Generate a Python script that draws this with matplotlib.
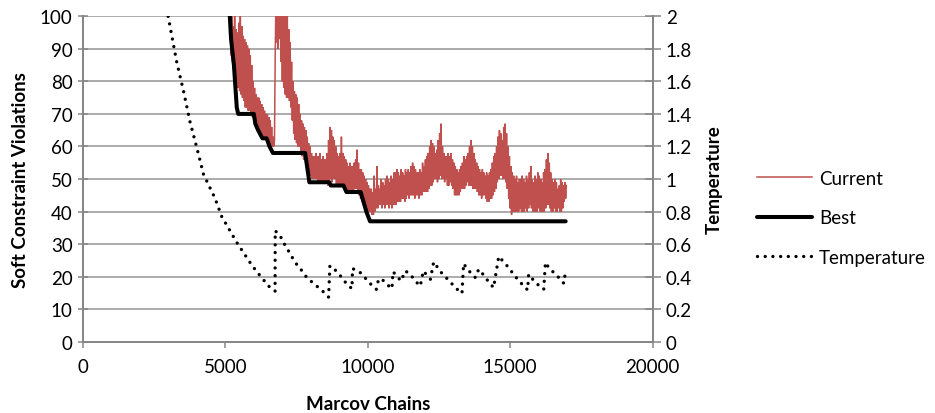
import matplotlib
matplotlib.use("Agg")
import matplotlib.pyplot as plt
from matplotlib.lines import Line2D
import numpy as np

plt.rcParams['font.family'] = ['Lato', 'DejaVu Sans']

# ---------------- data ----------------
x_ticks = [0, 5000, 10000, 15000, 20000]
y_ticks = [0, 10, 20, 30, 40, 50, 60, 70, 80, 90, 100]
t_ticks = [0, 0.2, 0.4, 0.6, 0.8, 1.0, 1.2, 1.4, 1.6, 1.8, 2.0]

best_chain = [5150, 5200, 5300, 5400, 5450, 6000, 6050, 6150, 6300, 6450, 6550,
              6670, 7800, 7900, 7950, 8650, 8700, 9150, 9250, 9750, 9850, 9950,
              10080, 16950]
best_value = [101, 93, 85, 72, 70, 70, 67, 65, 62.5, 62.5, 60,
              58, 58, 52, 49, 49, 48, 48, 46, 46, 43, 40,
              37, 37]

temp_chain = [2990, 3290, 3530, 3760, 4000, 4230, 4640, 4870, 5400, 5930,
              6130, 6320, 6570, 6745, 6750, 6925, 7040, 7250, 7450, 7630,
              7860, 8040, 8210, 8330, 8510, 8625, 8670, 8740, 8920, 9090,
              9270, 9445, 9465, 9735, 9950, 10110, 10300, 10380, 10500, 10670,
              10850, 10885, 11025, 11165, 11320, 11495, 11670, 11845, 11950, 12200,
              12315, 12455, 12605, 12900, 13075, 13310, 13365, 13485, 13660, 13780,
              13895, 14050, 14250, 14420, 14600, 14775, 14915, 15185, 15420, 15615,
              15650, 15890, 16180, 16240, 16355, 16530, 16710, 16885, 16940]
temp_value = [2.00, 1.72, 1.54, 1.35, 1.19, 1.03, 0.88, 0.77, 0.61, 0.47,
              0.425, 0.384, 0.332, 0.311, 0.682, 0.65, 0.61, 0.548, 0.487, 0.45,
              0.394, 0.367, 0.342, 0.322, 0.297, 0.274, 0.466, 0.46, 0.43, 0.394,
              0.353, 0.326, 0.45, 0.425, 0.384, 0.353, 0.322, 0.384, 0.384, 0.353,
              0.326, 0.43, 0.404, 0.373, 0.435, 0.414, 0.373, 0.342, 0.435, 0.384,
              0.49, 0.456, 0.42, 0.367, 0.332, 0.297, 0.48, 0.45, 0.414, 0.394,
              0.445, 0.414, 0.367, 0.332, 0.524, 0.49, 0.462, 0.40, 0.353, 0.318,
              0.414, 0.363, 0.322, 0.487, 0.456, 0.425, 0.394, 0.359, 0.425]

# Current: noisy series read as low/high samples every 50 chains from 5150
current_start = 5150
current_step = 50
current_low = [
    95, 88, 86, 84, 82, 80, 78, 77, 76, 75,
    74, 72, 72, 71, 71, 70, 69, 68, 67, 66,
    66, 65, 64, 63, 63, 62, 62, 61, 60, 60,
    60, 60, 88, 92, 90, 93, 86, 80, 78, 76,
    75, 75, 74, 72, 68, 64, 62, 61, 60, 60,
    58, 57, 56, 56, 55, 54, 52, 51, 50, 50,
    50, 50, 49, 49, 49, 49, 49, 49, 49, 48,
    49, 50, 49, 50, 50, 48, 48, 48, 48, 48,
    48, 47, 47, 46, 46, 46, 46, 46, 47, 47,
    46, 45, 44, 43, 42, 42, 41, 40, 40, 40,
    39, 39, 40, 41, 41, 42, 42, 41, 42, 41,
    42, 42, 41, 42, 41, 42, 42, 42, 43, 43,
    43, 44, 44, 43, 44, 45, 44, 45, 45, 45,
    44, 45, 45, 44, 45, 45, 46, 46, 46, 46,
    47, 48, 48, 49, 50, 50, 49, 50, 51, 50,
    50, 49, 50, 48, 48, 49, 48, 47, 45, 45,
    45, 45, 46, 47, 47, 47, 48, 49, 48, 48,
    48, 47, 47, 47, 46, 45, 45, 44, 45, 45,
    44, 43, 43, 44, 44, 45, 46, 47, 49, 50,
    51, 51, 50, 50, 49, 47, 44, 41, 39, 40,
    40, 40, 40, 40, 41, 40, 40, 40, 41, 40,
    41, 42, 41, 40, 40, 40, 40, 41, 40, 40,
    40, 40, 41, 42, 42, 41, 40, 40, 41, 40,
    40, 41, 40, 40, 41, 43, 44]
current_high = [
    105, 100, 97, 101, 96, 95, 98, 102, 97, 94,
    93, 92, 91, 90, 88, 85, 80, 78, 76, 75,
    75, 74, 73, 72, 71, 70, 70, 69, 68, 66,
    63, 62, 105, 108, 106, 104, 106, 105, 104, 102,
    100, 96, 92, 86, 80, 77, 76, 75, 73, 70,
    68, 67, 66, 65, 63, 61, 60, 58, 57, 57,
    58, 57, 57, 58, 56, 57, 56, 56, 58, 62,
    66, 65, 63, 62, 60, 58, 57, 58, 63, 58,
    57, 56, 55, 54, 55, 54, 54, 55, 56, 59,
    55, 53, 53, 52, 51, 50, 49, 48, 47, 47,
    46, 51, 47, 54, 48, 47, 50, 49, 48, 50,
    51, 50, 49, 51, 50, 52, 52, 53, 52, 51,
    53, 52, 51, 53, 52, 53, 52, 54, 55, 54,
    53, 52, 52, 53, 52, 55, 54, 56, 57, 58,
    60, 62, 61, 60, 58, 59, 62, 64, 67, 60,
    58, 57, 57, 58, 57, 58, 56, 55, 54, 53,
    52, 53, 54, 55, 57, 56, 57, 58, 60, 62,
    60, 58, 56, 55, 54, 53, 52, 53, 52, 51,
    52, 51, 52, 53, 55, 57, 58, 60, 63, 65,
    64, 62, 66, 67, 64, 60, 57, 54, 52, 51,
    50, 51, 49, 50, 50, 51, 50, 49, 51, 50,
    52, 54, 50, 49, 51, 50, 52, 51, 50, 49,
    52, 53, 56, 58, 55, 52, 50, 49, 50, 49,
    47, 48, 50, 49, 48, 49, 48]

# ---------------- figure ----------------
W, H = 935, 414
fig = plt.figure(figsize=(W / 100, H / 100), dpi=100)
L, R, T, B = 83, 652.5, 17.3, 342.7
ax = fig.add_axes([L / W, 1 - B / H, (R - L) / W, (B - T) / H])
ax2 = ax.twinx()

grid_c = '#A5A5A5'
axis_c = '#868686'
red = '#C0504D'

# interleave low/high samples of the Current series
n = len(current_low)
cur_x, cur_y = [], []
for i in range(n):
    x0 = current_start + i * current_step
    cur_x += [x0, x0 + current_step / 2]
    cur_y += [current_low[i], current_high[i]]

ax.plot(cur_x, cur_y, color=red, lw=1.1, zorder=3, solid_joinstyle='miter')
ax.plot(best_chain, best_value, color='black', lw=2.9, zorder=4,
        solid_joinstyle='round', solid_capstyle='round')
ax2.plot(temp_chain, temp_value, color='black', lw=2.4,
         linestyle=(0, (0.01, 2.3)), dash_capstyle='round', zorder=5)

ax.set_xlim(0, 20000)
ax.set_ylim(0, 100)
ax2.set_ylim(0, 2)
ax.set_xticks(x_ticks)
ax.set_xticklabels([str(v) for v in x_ticks])
ax.set_yticks(y_ticks)
ax.set_yticklabels([str(v) for v in y_ticks])
ax2.set_yticks(t_ticks)
ax2.set_yticklabels([f"{v:g}" for v in t_ticks])

ax.yaxis.grid(True, color=grid_c, lw=1.3)
ax.set_axisbelow(True)

for a in (ax, ax2):
    for s in a.spines.values():
        s.set_color(axis_c)
        s.set_linewidth(1.3)
    a.spines['top'].set_visible(False)

fs = 13.5
ax.tick_params(axis='y', direction='inout', length=7, width=1.1, color=axis_c,
               labelsize=fs, pad=4)
ax.tick_params(axis='x', direction='out', length=4, width=1.1, color=axis_c,
               labelsize=fs, pad=8)
ax2.tick_params(axis='y', direction='inout', length=11, width=1.1, color=axis_c,
                labelsize=fs, pad=4)

ax.set_xlabel('Marcov Chains', fontsize=fs, fontweight='bold', labelpad=14)
ax.set_ylabel('Soft Constraint Violations', fontsize=fs, fontweight='bold',
              labelpad=8)
ax2.set_ylabel('Temperature', fontsize=fs, fontweight='bold', labelpad=10)

handles = [
    Line2D([], [], color=red, lw=1.1),
    Line2D([], [], color='black', lw=2.9, solid_capstyle='round'),
    Line2D([], [], color='black', lw=2.4, linestyle=(0, (0.01, 2.3)),
           dash_capstyle='round'),
]
fig.legend(handles, ['Current', 'Best', 'Temperature'], loc='upper left',
           bbox_to_anchor=(757 / W, 1 - 171 / H), frameon=False,
           fontsize=fs, handlelength=2.95, handletextpad=0.35,
           labelspacing=1.2, borderpad=0, borderaxespad=0)

fig.savefig('out.png', dpi=100)
